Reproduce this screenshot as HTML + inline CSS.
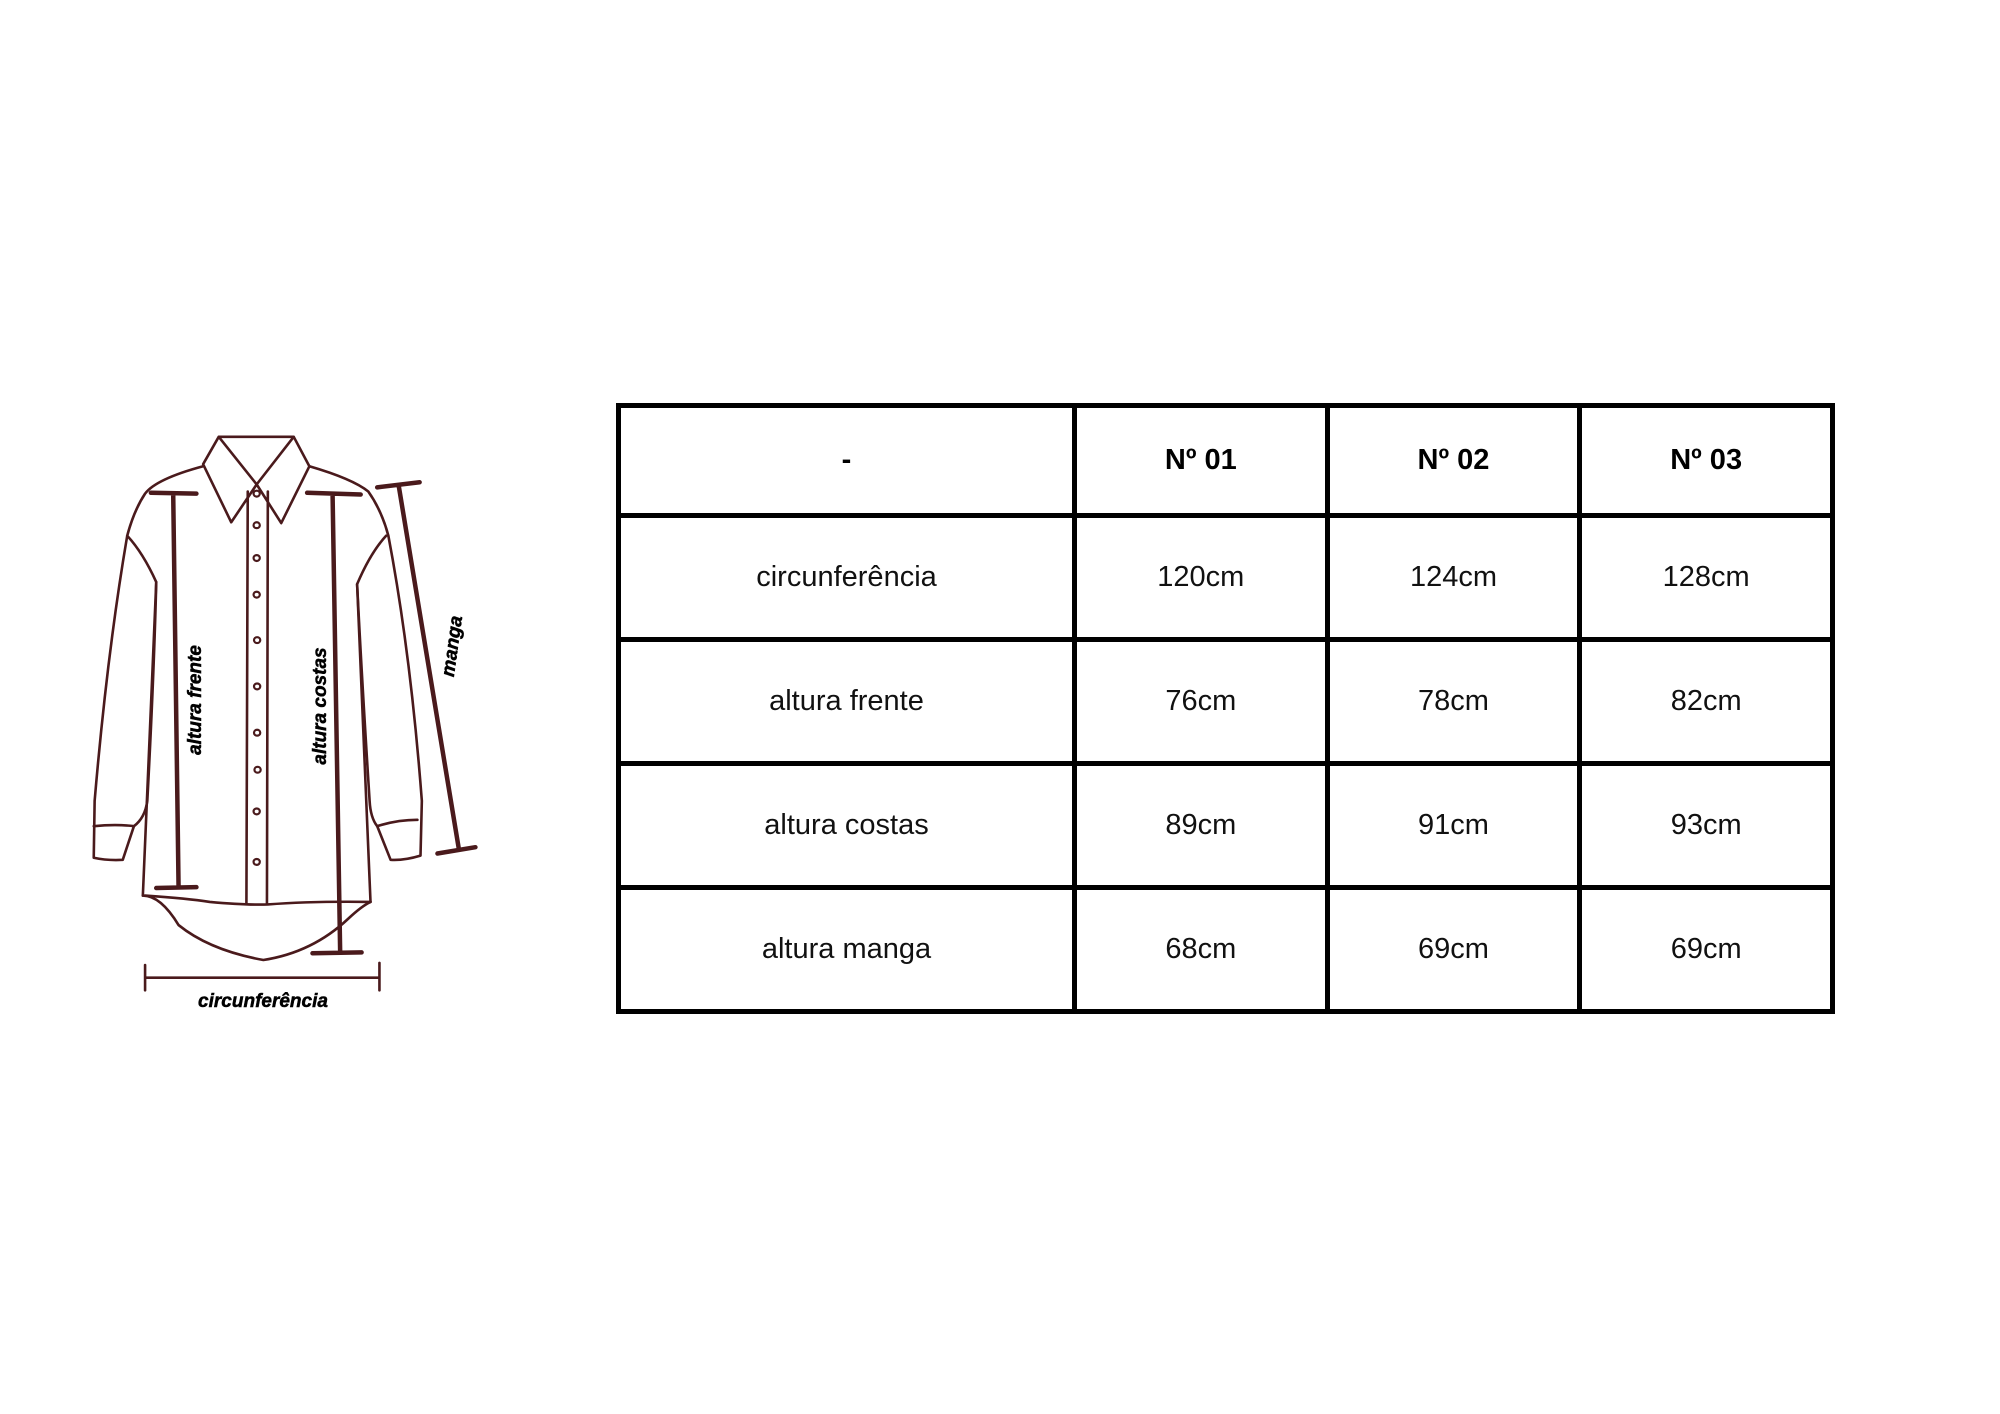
<!DOCTYPE html>
<html><head><meta charset="utf-8"><style>
html,body{margin:0;padding:0;background:#fff}
body{width:2000px;height:1414px;position:relative;overflow:hidden;font-family:"Liberation Sans",sans-serif}
table{position:absolute;left:616px;top:403px;width:1219px;border-collapse:collapse}
td{border:5px solid #000;text-align:center;font-size:29px;color:#111;padding:0;height:119px}
tr:first-child td{font-weight:bold;color:#000;height:105px}
</style></head><body>
<svg width="2000" height="1414" style="position:absolute;left:0;top:0">
<g transform="translate(0,380) scale(0.4464,0.4209)" fill="none" stroke="#4a1a1c" stroke-linecap="round" stroke-linejoin="round">
<g stroke-width="2.6">
<path vector-effect="non-scaling-stroke" d="M490,135 L658,135 M490,135 L455,200 L518,338 L575,248 L630,340 L693,205 L658,135 M490,135 L575,248 L658,135"/>
<path vector-effect="non-scaling-stroke" d="M455,205 Q350,235 325,270 Q300,310 285,370 Q240,650 212,1000 L210,1135 Q240,1142 275,1140 L300,1060 Q325,1040 330,1000 Q345,700 350,480 Q320,410 285,370"/>
<path vector-effect="non-scaling-stroke" d="M210,1060 Q260,1055 300,1060"/>
<path vector-effect="non-scaling-stroke" d="M350,480 L320,1225"/>
<path vector-effect="non-scaling-stroke" d="M693,205 Q790,235 825,265 Q855,310 870,370 Q920,650 945,1000 L942,1130 Q905,1142 875,1140 L845,1060 Q830,1040 828,1000 Q810,700 800,485 Q830,410 865,370"/>
<path vector-effect="non-scaling-stroke" d="M845,1060 Q890,1045 935,1045"/>
<path vector-effect="non-scaling-stroke" d="M800,485 L830,1240"/>
<path vector-effect="non-scaling-stroke" d="M320,1225 Q360,1225 400,1295 Q470,1355 590,1378 Q700,1360 780,1280 Q810,1250 830,1240"/>
<path vector-effect="non-scaling-stroke" d="M325,1225 Q420,1232 470,1240 Q555,1248 600,1246 Q700,1238 830,1240"/>
<path vector-effect="non-scaling-stroke" d="M555,265 L552,1245 M600,265 L598,1245"/>
<path vector-effect="non-scaling-stroke" d="M325,1390 L325,1450 M850,1385 L850,1450 M325,1420 L850,1420"/>
</g>
<g stroke-width="2.2">
<circle vector-effect="non-scaling-stroke" cx="575" cy="270" r="7"/><circle vector-effect="non-scaling-stroke" cx="575" cy="345" r="7"/><circle vector-effect="non-scaling-stroke" cx="575" cy="423" r="7"/><circle vector-effect="non-scaling-stroke" cx="575" cy="510" r="7"/><circle vector-effect="non-scaling-stroke" cx="576" cy="618" r="7"/><circle vector-effect="non-scaling-stroke" cx="576" cy="728" r="7"/><circle vector-effect="non-scaling-stroke" cx="576" cy="838" r="7"/><circle vector-effect="non-scaling-stroke" cx="577" cy="926" r="7"/><circle vector-effect="non-scaling-stroke" cx="575" cy="1025" r="7"/><circle vector-effect="non-scaling-stroke" cx="575" cy="1145" r="7"/>
</g>
<g stroke-width="4.5">
<path vector-effect="non-scaling-stroke" d="M388,270 L400,1205 M338,268 L440,270 M350,1207 L440,1205"/>
<path vector-effect="non-scaling-stroke" d="M745,270 L762,1360 M688,268 L808,272 M700,1362 L810,1360"/>
<path vector-effect="non-scaling-stroke" d="M893,250 L1028,1115 M845,255 L940,243 M980,1125 L1065,1110"/>
</g>
</g>
<g font-family="Liberation Sans, sans-serif" font-weight="bold" font-style="italic" font-size="19" fill="#000" text-anchor="middle" stroke="#000" stroke-width="0.5">
<text transform="translate(201,700) rotate(-90)">altura frente</text>
<text transform="translate(326,706) rotate(-90)">altura costas</text>
<text transform="translate(458,647) rotate(-82)">manga</text>
<text x="263" y="1007">circunferência</text>
</g>
</svg>
<table>
<tr><td style="width:451px">-</td><td>Nº 01</td><td>Nº 02</td><td>Nº 03</td></tr>
<tr><td>circunferência</td><td>120cm</td><td>124cm</td><td>128cm</td></tr>
<tr><td>altura frente</td><td>76cm</td><td>78cm</td><td>82cm</td></tr>
<tr><td>altura costas</td><td>89cm</td><td>91cm</td><td>93cm</td></tr>
<tr><td>altura manga</td><td>68cm</td><td>69cm</td><td>69cm</td></tr>
</table>
</body></html>
